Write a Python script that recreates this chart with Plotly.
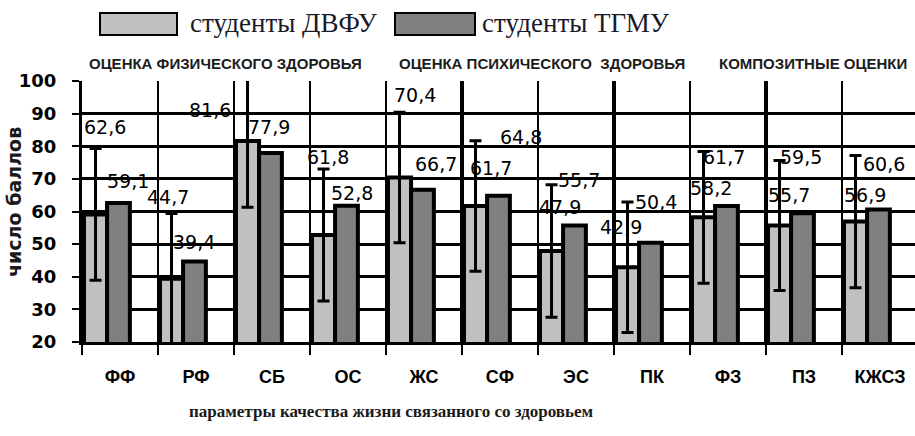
import plotly.graph_objects as go

# ---------------- data ----------------
categories = ["ФФ", "РФ", "СБ", "ОС", "ЖС", "СФ", "ЭС", "ПК", "ФЗ", "ПЗ", "КЖСЗ"]
dvfu = [59.1, 39.4, 81.6, 52.8, 70.4, 61.7, 47.9, 42.9, 58.2, 55.7, 56.9]
tgmu = [62.6, 44.7, 77.9, 61.8, 66.7, 64.8, 55.7, 50.4, 61.7, 59.5, 60.6]
dvfu_err = [20.2, 20.0, 20.3, 20.2, 20.0, 20.0, 20.3, 20.0, 20.2, 19.9, 20.3]
y_ticks = [20, 30, 40, 50, 60, 70, 80, 90, 100]
series_names = ["студенты ДВФУ", "студенты ТГМУ"]
group_titles = ["ОЦЕНКА ФИЗИЧЕСКОГО ЗДОРОВЬЯ", "ОЦЕНКА ПСИХИЧЕСКОГО  ЗДОРОВЬЯ", "КОМПОЗИТНЫЕ ОЦЕНКИ"]
x_title = "параметры качества жизни связанного со здоровьем"
y_title = "число баллов"

# ---------------- style / placement ----------------
W, H = 915, 436
ML, MR, MT, MB = 82, 0, 81, 94
PW, PH = W - ML - MR, H - MT - MB
CAT_PX = 76.0

LIGHT, DARK = "#c0c0c0", "#808080"

# label offsets (category units, value units) relative to each bar
dvfu_lbl_dx = [0.105, -0.026, -0.816, 0.059, -0.112, -0.125, -0.211, -0.414, -0.23, -0.197, -0.191]
dvfu_lbl_dy = [10.2, 11.3, 9.5, 13.0, 25.3, 11.5, 13.5, 12.4, 8.9, 9.3, 8.1]
tgmu_lbl_dx = [-0.191, -0.375, -0.033, -0.263, 0.164, 0.27, 0.033, 0.046, -0.059, -0.046, 0.053]
tgmu_lbl_dy = [23.4, 19.8, 8.1, 15.0, 7.8, 17.9, 13.9, 12.6, 15.1, 17.3, 14.1]

thick_after = ["ЖС", "ЭС", "ФЗ"]


def px(x):
    return (x - ML) / PW


def py(y):
    return (H - MB - y) / PH


def fmt(v):
    return f"{v:.1f}".replace(".", ",")


fig = go.Figure()

fig.add_trace(go.Bar(
    x=categories, y=dvfu, name=series_names[0],
    offset=-0.474, width=0.304,
    marker=dict(color=LIGHT, line=dict(color="black", width=4)),
    error_y=dict(type="data", array=dvfu_err, visible=True,
                 color="black", thickness=3, width=6),
    showlegend=False,
))
fig.add_trace(go.Bar(
    x=categories, y=tgmu, name=series_names[1],
    offset=-0.17, width=0.30,
    marker=dict(color=DARK, line=dict(color="black", width=4)),
    showlegend=False,
))

annotations = []
label_font = dict(family="DejaVu Sans", size=19, color="black")
for i, c in enumerate(categories):
    annotations.append(dict(x=i + dvfu_lbl_dx[i], y=dvfu[i] + dvfu_lbl_dy[i],
                            xref="x", yref="y", text=fmt(dvfu[i]), showarrow=False,
                            font=label_font, xanchor="center", yanchor="middle"))
    annotations.append(dict(x=i + tgmu_lbl_dx[i], y=tgmu[i] + tgmu_lbl_dy[i],
                            xref="x", yref="y", text=fmt(tgmu[i]), showarrow=False,
                            font=label_font, xanchor="center", yanchor="middle"))

# group headings
head_font = dict(family="Liberation Sans", size=15, color="#1c1c1c", weight="bold")
for txt, cx in zip(group_titles, [225, 542, 813]):
    annotations.append(dict(x=px(cx), y=py(63), xref="paper", yref="paper", text=txt,
                            showarrow=False, font=head_font, xanchor="center", yanchor="middle"))

# legend (drawn manually)
shapes = []
leg_font = dict(family="Liberation Serif", size=27, color="#1a1a2a")
for (x0, x1, col, tx, name) in [(100, 177, LIGHT, 188, series_names[0]),
                                (395, 475, DARK, 480, series_names[1])]:
    shapes.append(dict(type="rect", xref="paper", yref="paper",
                       x0=px(x0), x1=px(x1), y0=py(35), y1=py(13),
                       fillcolor=col, line=dict(color="black", width=2)))
    annotations.append(dict(x=px(tx), y=py(23), xref="paper", yref="paper", text=name,
                            showarrow=False, font=leg_font, xanchor="left", yanchor="middle"))

# thicker category separators
for c in thick_after:
    k = categories.index(c) + 0.5
    shapes.append(dict(type="line", xref="x", yref="y", x0=k, x1=k, y0=20, y1=100,
                       line=dict(color="black", width=4), layer="below"))

# axis titles
annotations.append(dict(x=px(391), y=py(411), xref="paper", yref="paper", text=x_title,
                        showarrow=False, xanchor="center", yanchor="middle",
                        font=dict(family="Liberation Serif", size=17, color="#1a1a1a", weight="bold")))
annotations.append(dict(x=px(14), y=py(202), xref="paper", yref="paper", text=y_title,
                        showarrow=False, xanchor="center", yanchor="middle", textangle=-90,
                        font=dict(family="DejaVu Sans", size=19, color="#1a1a1a", weight="bold")))

x_end = -0.5 + PW / CAT_PX

fig.update_layout(
    width=W, height=H,
    margin=dict(l=ML, r=MR, t=MT, b=MB, autoexpand=False),
    paper_bgcolor="white", plot_bgcolor="white",
    barmode="overlay",
    annotations=annotations,
    shapes=shapes,
    xaxis=dict(
        type="category", categoryorder="array", categoryarray=categories,
        range=[-0.5, x_end], tickson="boundaries", automargin=False,
        showgrid=True, gridcolor="black", gridwidth=2,
        showline=True, linecolor="black", linewidth=3,
        ticks="outside", ticklen=10, tickwidth=2, tickcolor="black",
        tickfont=dict(family="Liberation Sans", size=18, color="black", weight="bold"),
        ticklabelstandoff=16,
        fixedrange=True,
    ),
    yaxis=dict(
        range=[20, 100], tickvals=y_ticks, automargin=False,
        showgrid=True, gridcolor="black", gridwidth=3,
        showline=True, linecolor="black", linewidth=3,
        ticks="outside", ticklen=7, tickwidth=2, tickcolor="black",
        tickfont=dict(family="DejaVu Sans", size=18, color="black", weight="bold"),
        ticklabelstandoff=12,
        zeroline=False, fixedrange=True,
    ),
)

fig.write_html("out.html", config={"displayModeBar": False},
               post_script="document.body.style.margin='0px';document.body.style.overflow='hidden';")
